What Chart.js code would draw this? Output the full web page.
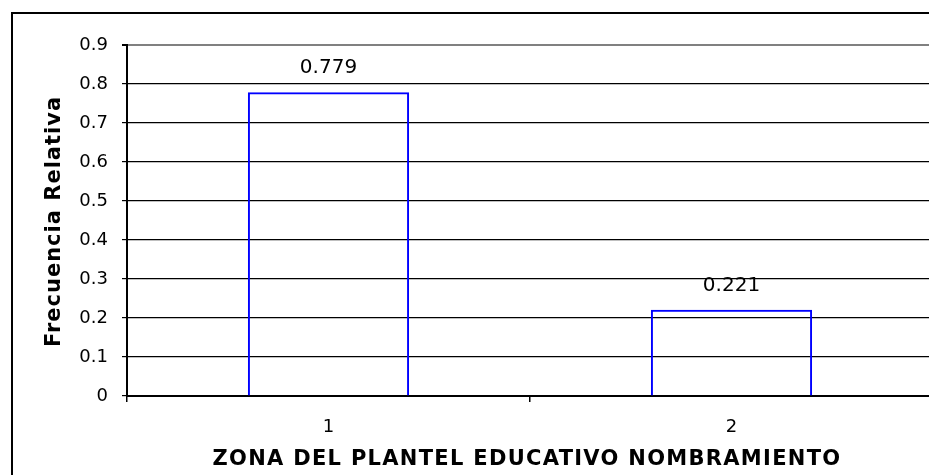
<!DOCTYPE html>
<html>
<head>
<meta charset="utf-8">
<script src="https://cdn.jsdelivr.net/npm/chart.js@4.4.1/dist/chart.umd.min.js"></script>
<style>
  html, body { margin: 0; padding: 0; background: #fff; overflow: hidden; width: 929px; height: 475px; }
  #frame { position: absolute; left: 11px; top: 12px; width: 1000px; height: 1000px; border: 2px solid #000; }
  #wrap { position: absolute; left: 0; top: 0; width: 940px; height: 475px; }
</style>
</head>
<body>
<div id="frame"></div>
<div id="wrap"><canvas id="c" width="940" height="475"></canvas></div>
<script>
const categories = ['1', '2'];
const frecuenciaRelativa = [0.779, 0.221];
const yTickLabels = ['0', '0.1', '0.2', '0.3', '0.4', '0.5', '0.6', '0.7', '0.8', '0.9'];
const xAxisTitle = 'ZONA DEL PLANTEL EDUCATIVO NOMBRAMIENTO';
const yAxisTitle = 'Frecuencia Relativa';

const valueLabels = {
  id: 'valueLabels',
  afterDatasetsDraw(chart) {
    const ctx = chart.ctx;
    const meta = chart.getDatasetMeta(0);
    ctx.save();
    ctx.font = '20px "DejaVu Sans"';
    ctx.fillStyle = '#000';
    ctx.textAlign = 'center';
    ctx.textBaseline = 'middle';
    meta.data.forEach((bar, i) => {
      ctx.fillText(String(frecuenciaRelativa[i]), bar.x, bar.y - 24);
    });
    ctx.restore();
  }
};

const axisTitles = {
  id: 'axisTitles',
  afterDraw(chart) {
    const ctx = chart.ctx;
    const area = chart.chartArea;
    ctx.save();
    ctx.fillStyle = '#000';
    ctx.textAlign = 'center';
    ctx.textBaseline = 'middle';
    // x title
    ctx.font = 'bold 21px "DejaVu Sans"';
    ctx.letterSpacing = '1.3px';
    ctx.fillText(xAxisTitle, (area.left + area.right) / 2 - 3, chart.scales.x.bottom - 15);
    // y title
    ctx.font = 'bold 21px "DejaVu Sans"';
    ctx.letterSpacing = '1px';
    ctx.translate(chart.scales.y.left + 55, (area.top + area.bottom) / 2 + 1);
    ctx.rotate(-Math.PI / 2);
    ctx.fillText(yAxisTitle, 0, 0);
    ctx.restore();
  }
};

new Chart(document.getElementById('c'), {
  type: 'bar',
  data: {
    labels: categories,
    datasets: [{
      data: frecuenciaRelativa,
      backgroundColor: 'rgba(0,0,0,0)',
      borderColor: '#0000FF',
      borderWidth: 2,
      barPercentage: 0.4,
      categoryPercentage: 1.0
    }]
  },
  options: {
    responsive: false,
    animation: false,
    layout: { padding: { left: 0, right: 7, top: 45, bottom: 0 } },
    plugins: { legend: { display: false }, tooltip: { enabled: false } },
    scales: {
      x: {
        grid: { offset: true, drawOnChartArea: false, drawTicks: true, tickLength: 6, color: '#000', lineWidth: 1.5 },
        border: { display: true, color: '#000', width: 2 },
        ticks: { color: '#000', font: { family: '"DejaVu Sans"', size: 18 }, padding: 15 },
        title: { display: false, text: xAxisTitle },
        afterFit(scale) { scale.height = 79; }
      },
      y: {
        min: 0, max: 0.9,
        ticks: {
          stepSize: 0.1, color: '#000', font: { family: '"DejaVu Sans"', size: 18 }, padding: 14,
          callback: (v, i) => yTickLabels[i]
        },
        grid: {
          color: (c) => (c.index === yTickLabels.length - 1 ? '#808080' : '#000'),
          lineWidth: (c) => (c.index === yTickLabels.length - 1 ? 2 : 1.2),
          tickColor: '#000', tickLength: 5, drawTicks: true
        },
        border: { display: true, color: '#000', width: 2 },
        title: { display: false, text: yAxisTitle },
        afterFit(scale) { scale.width = 127; }
      }
    }
  },
  plugins: [valueLabels, axisTitles]
});
</script>
</body>
</html>
